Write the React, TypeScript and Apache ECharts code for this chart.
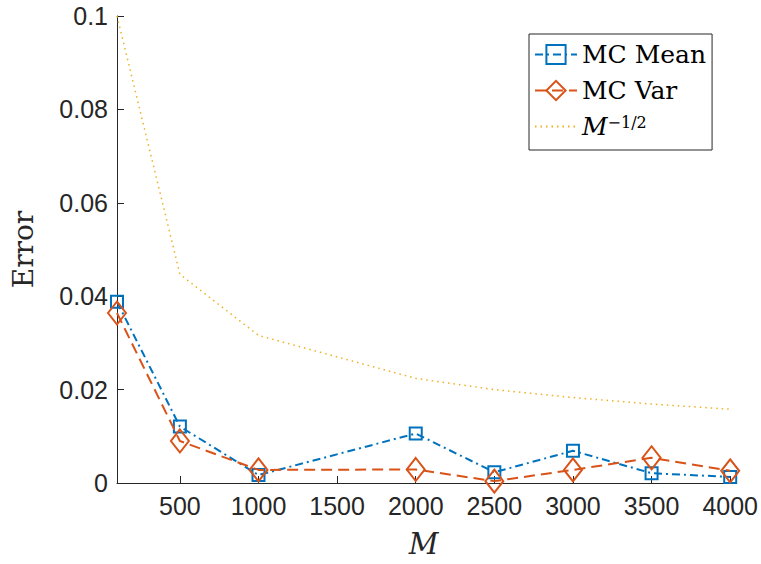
import React, { useEffect, useRef } from "react";
import * as echarts from "echarts";

const mValues = [100, 500, 1000, 2000, 2500, 3000, 3500, 4000];
const mcMean = [0.0388, 0.0121, 0.0017, 0.0106, 0.0023, 0.0069, 0.0021, 0.0013];
const mcVar = [0.0364, 0.009, 0.0028, 0.0029, 0.0004, 0.0028, 0.0054, 0.0026];
const rate = [0.1, 0.0447, 0.0316, 0.0224, 0.02, 0.0183, 0.0169, 0.0158];
const xTicks = [500, 1000, 1500, 2000, 2500, 3000, 3500, 4000];

const BLUE = "#0072BD";
const ORANGE = "#D95319";
const YELLOW = "#EDB120";
const INK = "#262626";
const SANS = "'Liberation Sans', Arial, Helvetica, sans-serif";
const SERIF = "'DejaVu Serif', serif";

const pairs = (ys: number[]) => mValues.map((x, i) => [x, ys[i]]);

export default function App() {
  const ref = useRef<HTMLDivElement>(null);
  useEffect(() => {
    if (!ref.current) return;
    const chart = echarts.init(ref.current, undefined, { renderer: "svg" });
    chart.setOption({
      animation: false,
      backgroundColor: "#fff",
      grid: { left: 117, right: 28, top: 16, bottom: 81 },
      xAxis: {
        type: "value",
        min: 100,
        max: 4000,
        name: "M",
        nameLocation: "middle",
        nameGap: 46,
        nameTextStyle: {
          fontFamily: SERIF,
          fontStyle: "italic",
          fontSize: 29,
          color: INK,
          verticalAlign: "top",
        },
        axisLine: { lineStyle: { color: INK, width: 1 } },
        axisTick: { inside: true, length: 7, customValues: xTicks, lineStyle: { color: INK } },
        axisLabel: {
          customValues: xTicks,
          formatter: (v: number) => String(v),
          fontFamily: SANS,
          fontSize: 25,
          color: INK,
          margin: 10,
        },
        splitLine: { show: false },
      },
      yAxis: {
        type: "value",
        min: 0,
        max: 0.1,
        interval: 0.02,
        name: "Error",
        nameLocation: "middle",
        nameGap: 80,
        nameTextStyle: {
          fontFamily: SERIF,
          fontSize: 28,
          color: INK,
        },
        axisLine: { show: true, lineStyle: { color: INK, width: 1 } },
        axisTick: { show: true, inside: true, length: 7, lineStyle: { color: INK } },
        axisLabel: {
          formatter: (v: number) => String(parseFloat(v.toFixed(2))),
          fontFamily: SANS,
          fontSize: 25,
          color: INK,
          margin: 9,
        },
        splitLine: { show: false },
      },
      legend: {
        orient: "vertical",
        left: 529,
        top: 34,
        padding: [8, 6, 11, 5],
        itemWidth: 42,
        itemHeight: 24,
        itemGap: 11,
        backgroundColor: "#fff",
        borderColor: INK,
        borderWidth: 1,
        borderRadius: 0,
        data: [
          "MC Mean",
          "MC Var",
          { name: "M^{-1/2}", itemStyle: { color: "rgba(255,255,255,0)", borderWidth: 0 } },
        ],
        formatter: (name: string) =>
          name === "M^{-1/2}" ? "{it|M}{sup|−1/2}" : name,
        textStyle: {
          fontFamily: SERIF,
          fontSize: 25,
          color: "#000",
          lineHeight: 24,
          rich: {
            it: { fontFamily: SERIF, fontStyle: "italic", fontSize: 25, color: "#000", lineHeight: 24 },
            sup: { fontFamily: SERIF, fontSize: 16, color: "#000", verticalAlign: "top", lineHeight: 16, padding: [0, 0, 8, 0] },
          },
        },
      },
      series: [
        {
          name: "MC Mean",
          type: "line",
          data: pairs(mcMean),
          symbol: "rect",
          symbolSize: 12,
          lineStyle: { color: BLUE, width: 2, type: [8, 4, 2, 4] },
          itemStyle: { color: "rgba(255,255,255,0)", borderColor: BLUE, borderWidth: 2 },
          z: 3,
        },
        {
          name: "MC Var",
          type: "line",
          data: pairs(mcVar),
          symbol: "diamond",
          symbolSize: [18, 23],
          lineStyle: { color: ORANGE, width: 2, type: [11, 6] },
          itemStyle: { color: "rgba(255,255,255,0)", borderColor: ORANGE, borderWidth: 2 },
          z: 4,
        },
        {
          name: "M^{-1/2}",
          type: "line",
          data: pairs(rate),
          symbol: "none",
          showSymbol: false,
          lineStyle: { color: YELLOW, width: 1.5, type: [1.5, 4] },
          itemStyle: { color: YELLOW },
          z: 2,
        },
      ],
    });
    return () => chart.dispose();
  }, []);
  return <div ref={ref} style={{ width: 761, height: 564, position: "absolute", left: 0, top: 0 }} />;
}
